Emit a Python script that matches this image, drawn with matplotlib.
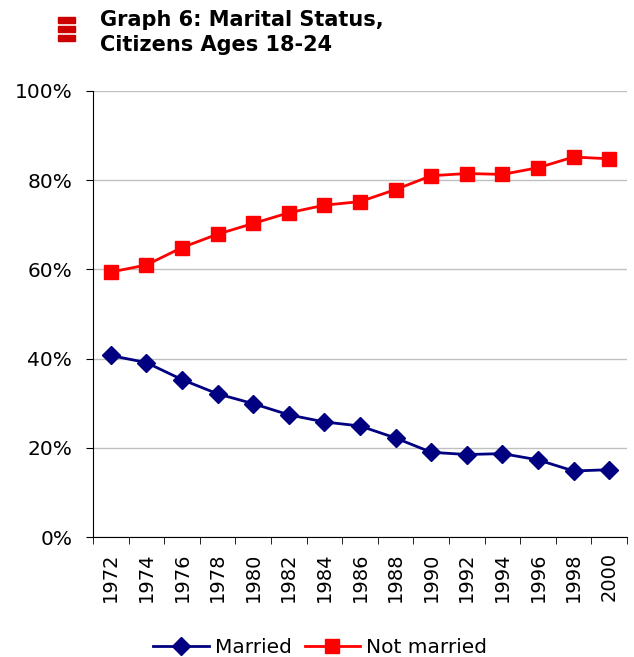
import matplotlib
matplotlib.use("Agg")
import matplotlib.pyplot as plt
from matplotlib.patches import Rectangle
from matplotlib.ticker import FuncFormatter, FixedLocator
import numpy as np

years = ["1972", "1974", "1976", "1978", "1980", "1982", "1984", "1986",
         "1988", "1990", "1992", "1994", "1996", "1998", "2000"]
married = [40.7, 39.1, 35.3, 32.1, 29.9, 27.4, 25.8, 24.9,
           22.2, 19.0, 18.5, 18.7, 17.3, 14.8, 15.1]
not_married = [59.4, 61.0, 64.9, 67.9, 70.3, 72.7, 74.4, 75.2,
               77.9, 81.0, 81.5, 81.3, 82.8, 85.2, 84.8]

fig = plt.figure(figsize=(6.34, 6.57), dpi=100)
ax = fig.add_axes([0.1467, 0.1826, 0.8423, 0.6789])

x = np.arange(len(years))
ax.plot(x, married, color="#000080", lw=2, marker="D", ms=9, label="Married")
ax.plot(x, not_married, color="#ff0000", lw=2, marker="s", ms=10, label="Not married")

ax.set_xlim(-0.5, len(years) - 0.5)
ax.set_ylim(0, 100)
ax.set_yticks(np.arange(0, 101, 20))
ax.yaxis.set_major_formatter(FuncFormatter(lambda v, p: f"{v:.0f}%"))
ax.grid(axis="y", color="#c0c0c0", lw=1)
ax.set_axisbelow(True)

ax.set_xticks(x)
ax.set_xticklabels(years, rotation=90, fontsize=14)
ax.tick_params(axis="x", length=0, pad=11)
ax.xaxis.set_minor_locator(FixedLocator(np.arange(-0.5, len(years), 1)))
ax.tick_params(axis="x", which="minor", length=5, color="black")
ax.tick_params(axis="y", labelsize=14.5, length=5, pad=10)

for s in ["top", "right"]:
    ax.spines[s].set_visible(False)

fig.legend(loc="lower center", bbox_to_anchor=(0.505, -0.027), ncol=2, frameon=False,
           fontsize=14.5, handlelength=2.75, columnspacing=0.65, handletextpad=0.3)

fig.text(0.158, 0.985, "Graph 6: Marital Status,\nCitizens Ages 18-24",
         fontsize=15, fontweight="bold", va="top", ha="left", linespacing=1.35)
for i in range(3):
    fig.patches.append(Rectangle((0.0915, 1 - (17 + i * 9) / 657 - 6 / 657), 17 / 634, 6 / 657,
                                 transform=fig.transFigure, color="#cc0000"))

fig.savefig("out.png", dpi=100)
